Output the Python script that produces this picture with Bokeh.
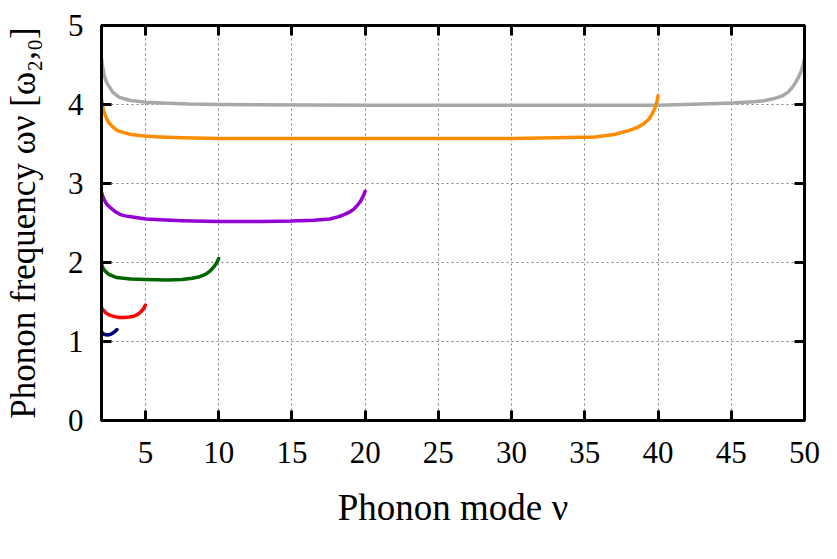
from bokeh.plotting import figure
from bokeh.models import Range1d, LinearAxis, FixedTicker
from bokeh.embed import file_html
from bokeh.resources import INLINE

# ---- data ----
nu_3 = [2.0, 2.15, 2.3, 2.45, 2.6, 2.75, 2.9, 3.05]
om_3 = [1.12, 1.095, 1.085, 1.083, 1.09, 1.105, 1.125, 1.15]

nu_5 = [2.0, 2.15, 2.35, 2.6, 2.9, 3.2, 3.6, 3.9, 4.2, 4.45, 4.65, 4.85, 5.0]
om_5 = [1.43, 1.39, 1.355, 1.33, 1.315, 1.305, 1.305, 1.31, 1.32, 1.34, 1.37, 1.41, 1.46]

nu_10 = [2.0, 2.1, 2.25, 2.5, 2.75, 3.03, 3.5, 4.0, 5.0, 6.5, 7.5, 8.2, 8.7, 9.1, 9.4, 9.65, 9.85, 10.0]
om_10 = [1.98, 1.93, 1.89, 1.85, 1.83, 1.81, 1.80, 1.79, 1.785, 1.78, 1.785, 1.80, 1.82, 1.85, 1.89, 1.94, 1.99, 2.05]

nu_20 = [2.0, 2.1, 2.2, 2.35, 2.57, 2.9, 3.25, 3.6, 4.0, 5.03, 6.0, 7.5, 10.0, 13.0, 15.0, 16.5,
         17.6, 18.2, 18.6, 18.96, 19.25, 19.5, 19.7, 19.87, 20.0]
om_20 = [2.89, 2.83, 2.79, 2.74, 2.70, 2.65, 2.61, 2.59, 2.58, 2.55, 2.54, 2.53, 2.52, 2.52, 2.525, 2.535,
         2.55, 2.58, 2.61, 2.64, 2.68, 2.73, 2.78, 2.84, 2.90]

nu_40 = [2.0, 2.1, 2.2, 2.35, 2.55, 2.75, 3.0, 3.23, 3.6, 4.0, 4.95, 6.0, 7.5, 10.0, 20.0, 30.0,
         33.0, 35.7, 37.0, 38.0, 38.6, 39.04, 39.35, 39.6, 39.8, 39.92, 40.0]
om_40 = [4.07, 3.96, 3.89, 3.82, 3.76, 3.72, 3.68, 3.66, 3.64, 3.62, 3.60, 3.59, 3.58, 3.57, 3.57, 3.57,
         3.58, 3.59, 3.62, 3.67, 3.71, 3.76, 3.81, 3.88, 3.96, 4.03, 4.11]

nu_50 = [2.0, 2.1, 2.2, 2.35, 2.55, 2.75, 3.0, 3.23, 3.6, 4.0, 5.0, 6.5, 8.0, 10.0, 20.0, 30.0, 40.0,
         43.0, 45.1, 46.5, 47.3, 48.0, 48.5, 48.9, 49.18, 49.4, 49.6, 49.75, 49.9, 50.0]
om_50 = [4.58, 4.45, 4.36, 4.28, 4.22, 4.16, 4.12, 4.09, 4.07, 4.05, 4.03, 4.015, 4.005, 4.00, 3.99, 3.99, 3.99,
         4.005, 4.02, 4.035, 4.05, 4.08, 4.11, 4.16, 4.22, 4.28, 4.35, 4.41, 4.50, 4.58]

series = [
    (nu_50, om_50, "#a8a8a8"),
    (nu_40, om_40, "#ff8c00"),
    (nu_20, om_20, "#9400d3"),
    (nu_10, om_10, "#006400"),
    (nu_5, om_5, "#ff0000"),
    (nu_3, om_3, "#000080"),
]

x_ticks = [5, 10, 15, 20, 25, 30, 35, 40, 45, 50]
y_ticks = [0, 1, 2, 3, 4, 5]
x_grid = [5, 10, 15, 20, 25, 30, 35, 40, 45]
y_grid = [1, 2, 3, 4]
x_label = "Phonon mode ν"
y_label = "Phonon frequency ων [ω₂,₀]"

FONT = "Liberation Serif"

p = figure(frame_width=703, frame_height=395,
           min_border_left=98, min_border_right=25,
           min_border_top=25, min_border_bottom=110,
           x_range=Range1d(2, 50), y_range=Range1d(0, 5),
           output_backend="svg", toolbar_location=None,
           background_fill_color="white", border_fill_color="white")

p.outline_line_color = "black"
p.outline_line_width = 3

for nu, om, col in series:
    p.line(nu, om, line_color=col, line_width=3.5, line_join="round", line_cap="round")

def style_axis(ax, ticks, show_labels):
    ax.ticker = FixedTicker(ticks=ticks)
    ax.axis_line_color = "black"
    ax.axis_line_width = 3
    ax.major_tick_in = 10
    ax.major_tick_out = 0
    ax.major_tick_line_width = 3
    ax.minor_tick_line_color = None
    ax.major_label_text_font = FONT
    if show_labels:
        ax.major_label_text_font_size = "31px"
        ax.major_label_text_color = "black"
    else:
        ax.major_label_text_font_size = "0px"
        ax.major_label_standoff = 0

style_axis(p.xaxis[0], x_ticks, True)
style_axis(p.yaxis[0], y_ticks, True)
p.xaxis[0].major_label_standoff = 21
p.yaxis[0].major_label_standoff = 18

p.xaxis[0].axis_label = x_label
p.yaxis[0].axis_label = y_label
for ax in (p.xaxis[0], p.yaxis[0]):
    ax.axis_label_text_font = FONT
    ax.axis_label_text_font_style = "normal"
    ax.axis_label_text_color = "black"
p.xaxis[0].axis_label_text_font_size = "37px"
p.yaxis[0].axis_label_text_font_size = "35px"
p.xaxis[0].axis_label_standoff = 21
p.yaxis[0].axis_label_standoff = 22

top = LinearAxis()
style_axis(top, x_ticks, False)
p.add_layout(top, "above")
right = LinearAxis()
style_axis(right, y_ticks, False)
p.add_layout(right, "right")

p.xgrid.ticker = FixedTicker(ticks=x_grid)
p.ygrid.ticker = FixedTicker(ticks=y_grid)
for g in (p.xgrid[0], p.ygrid[0]):
    g.grid_line_color = "#808080"
    g.grid_line_dash = "2 3"
    g.grid_line_width = 1

open("out.html", "w").write(file_html(p, INLINE))
